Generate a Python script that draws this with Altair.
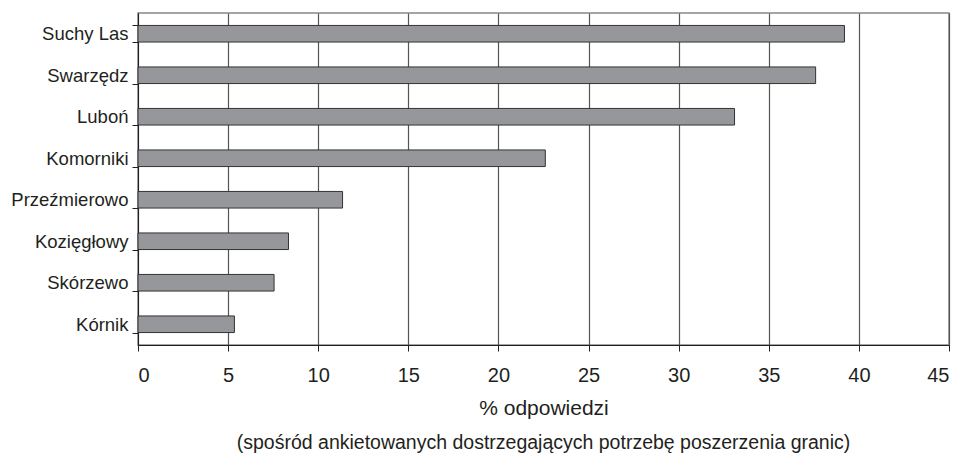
import altair as alt
import pandas as pd

places = ["Suchy Las", "Swarzędz", "Luboń", "Komorniki", "Przeźmierowo",
          "Kozięgłowy", "Skórzewo", "Kórnik"]
values = [39.2, 37.6, 33.1, 22.6, 11.35, 8.35, 7.55, 5.35]
x_ticks = [0, 5, 10, 15, 20, 25, 30, 35, 40, 45]

df = pd.DataFrame({"place": places, "value": values})

FONT = "Liberation Sans"

chart = alt.Chart(df).mark_bar(
    color="#96979b", stroke="#333333", strokeWidth=1
).encode(
    x=alt.X(
        "value:Q",
        scale=alt.Scale(domain=[0, 45], nice=False),
        axis=alt.Axis(
            values=x_ticks,
            title="% odpowiedzi",
            titleFont=FONT, titleFontSize=21, titleFontWeight="normal",
            titleColor="#231f20", titlePadding=12,
            labelFont=FONT, labelFontSize=20, labelColor="#231f20",
            labelPadding=14, tickSize=6, tickColor="#231f20",
            domainColor="#231f20", grid=True, gridColor="#555555",
            gridWidth=1.2,
        ),
    ),
    y=alt.Y(
        "place:N",
        sort=places,
        scale=alt.Scale(paddingInner=0.6, paddingOuter=0.3),
        axis=alt.Axis(
            title=None, labelFont=FONT, labelFontSize=18.5,
            labelColor="#231f20", labelPadding=4, tickSize=6,
            tickColor="#231f20", domainColor="#231f20",
            tickBand="extent", grid=False,
        ),
    ),
).properties(
    width=811, height=332,
    padding={"left": 2, "top": -4, "right": 5, "bottom": 0},
    title=alt.TitleParams(
        "(spośród ankietowanych dostrzegających potrzebę poszerzenia granic)",
        orient="bottom", font=FONT, fontSize=19.5, fontWeight="normal",
        color="#231f20", offset=16,
    ),
).configure_view(
    stroke="#888888", strokeWidth=1.5
)

chart.save("out.html", embed_options={"renderer": "svg", "actions": False})
